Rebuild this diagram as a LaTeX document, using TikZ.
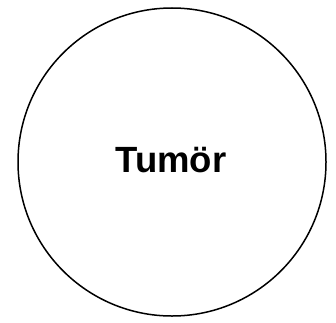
\documentclass[tikz,border=0pt]{standalone}
\usepackage{fontspec}
\setmainfont{Liberation Sans}
\begin{document}
\begin{tikzpicture}[x=1pt,y=1pt,
  tumor/.style={circle,draw=black,line width=1.5pt,minimum size=308pt,inner sep=0pt},
  lbl/.style={font=\fontsize{36.5}{40}\selectfont\bfseries}]
\useasboundingbox (0,0) rectangle (336,322);
\node[tumor] (c) at (172,160) {};
\node[lbl] (t) at (171,162) {Tumör};
\end{tikzpicture}
\end{document}
